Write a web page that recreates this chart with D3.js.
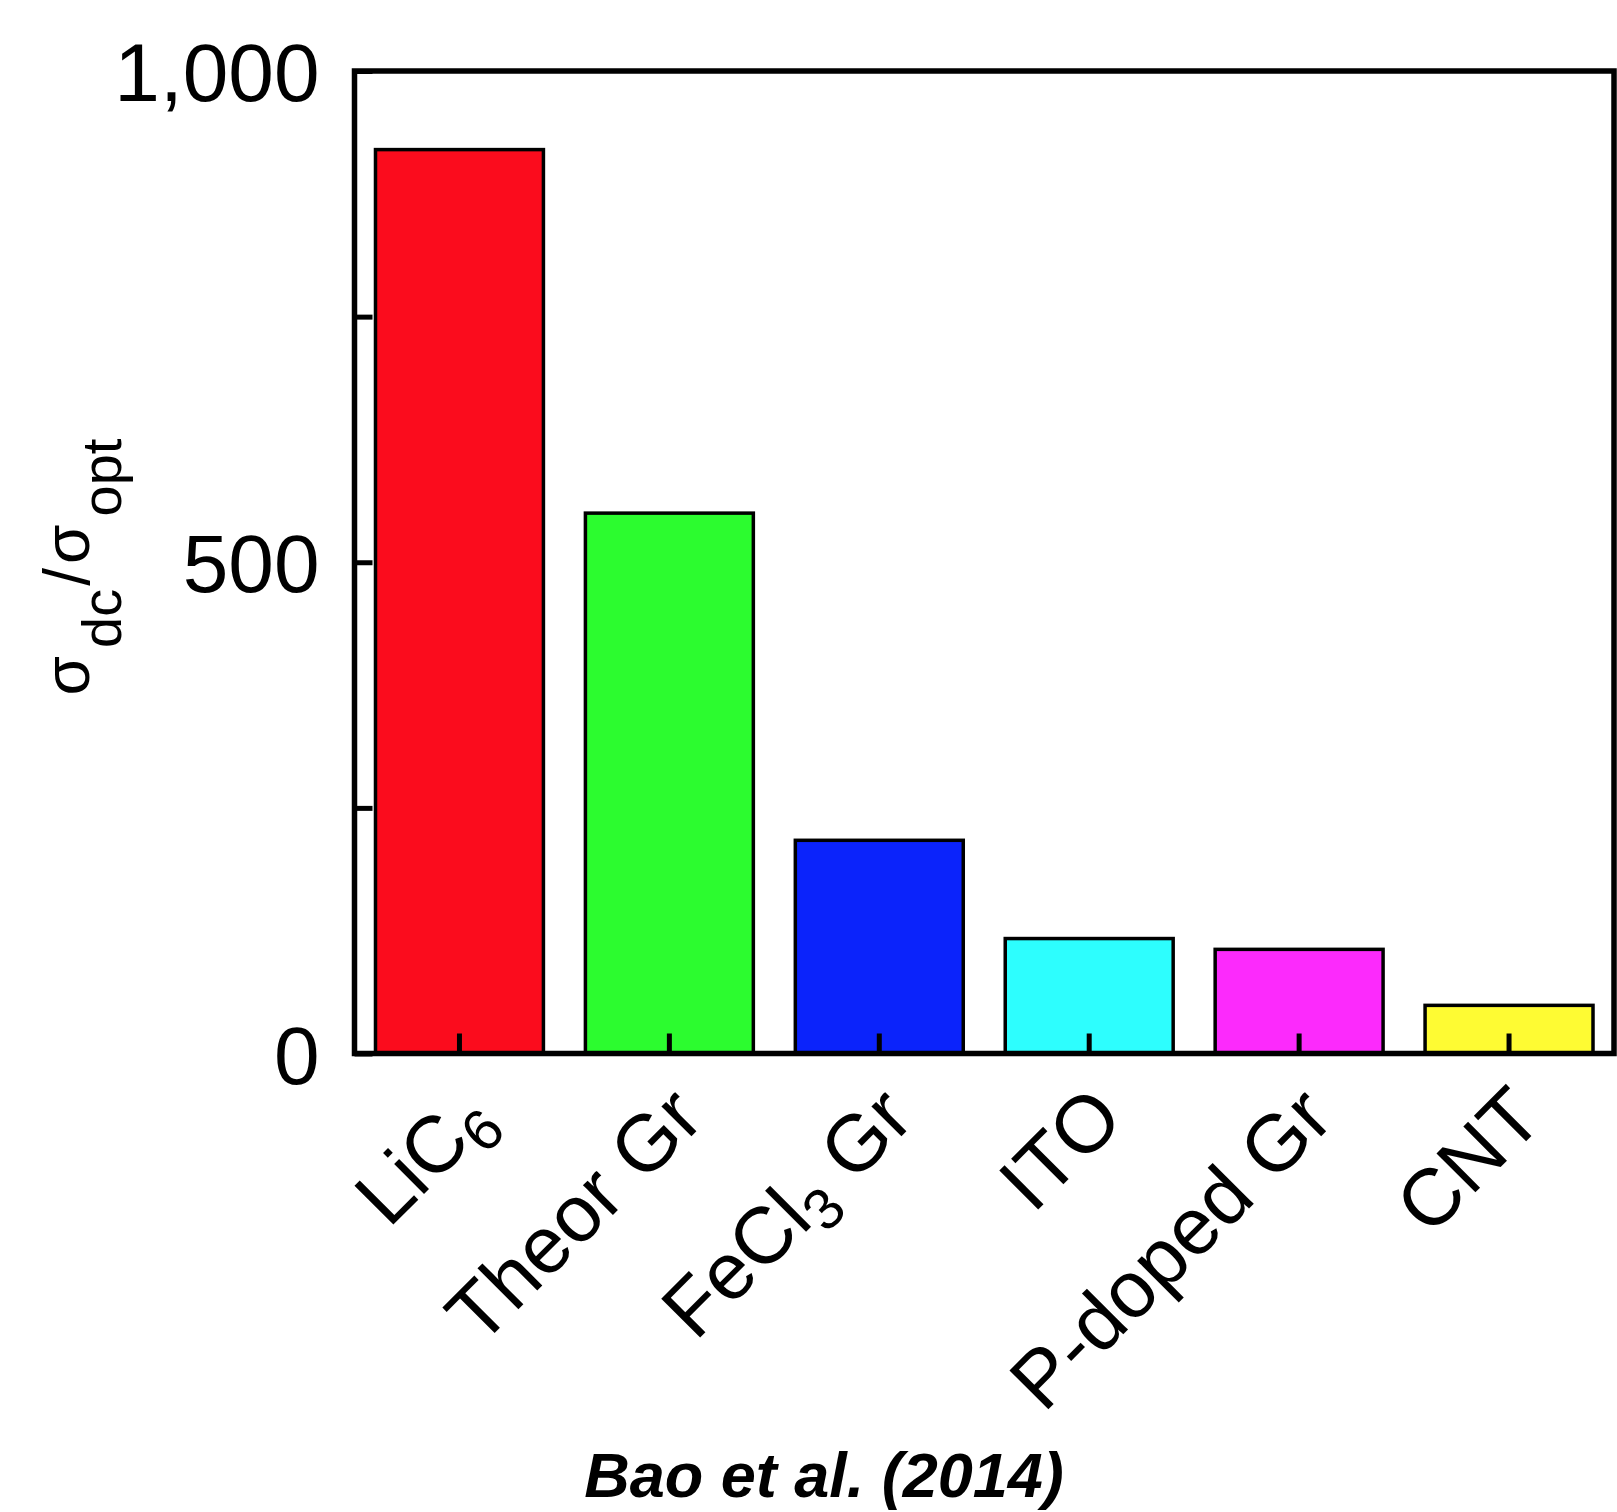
<!DOCTYPE html>
<html>
<head>
<meta charset="utf-8">
<script src="https://cdn.jsdelivr.net/npm/d3@7"></script>
<style>
  html, body { margin: 0; padding: 0; background: #fff; }
  svg { display: block; font-family: "Liberation Sans", Arial, Helvetica, sans-serif; }
</style>
</head>
<body>
<svg id="chart" width="1617" height="1512"></svg>
<script>
// Categories use "_" to mark a subscript digit (LiC_6 -> LiC₆)
const categories = ["LiC_6", "Theor Gr", "FeCl_3 Gr", "ITO", "P-doped Gr", "CNT"];
const values = [920, 550, 217, 117, 106, 49];
const barColors = ["#fb0c1d", "#2cfc2f", "#0b23fb", "#2dfefe", "#fc2afc", "#fefb33"];
const yTicks = [0, 250, 500, 750, 1000];
const yTickLabels = ["0", "", "500", "", "1,000"];
const sourceNote = "Bao et al. (2014)";

const svg = d3.select("#chart");
const plot = { left: 354.5, right: 1614, top: 71, bottom: 1053.5 };

const x = d3.scaleBand()
  .domain(categories)
  .range([plot.left, plot.right])
  .paddingInner(0.2)
  .paddingOuter(0.1);

const y = d3.scaleLinear()
  .domain([0, 1000])
  .range([plot.bottom, plot.top]);

// Bars
svg.append("g")
  .selectAll("rect")
  .data(categories)
  .join("rect")
  .attr("x", d => x(d))
  .attr("width", x.bandwidth())
  .attr("y", (d, i) => y(values[i]))
  .attr("height", (d, i) => y(0) - y(values[i]))
  .attr("fill", (d, i) => barColors[i])
  .attr("stroke", "#000")
  .attr("stroke-width", 3.5);

// Y axis with inward ticks
const yAxis = d3.axisLeft(y)
  .tickValues(yTicks)
  .tickSize(-18)
  .tickPadding(35)
  .tickFormat((d, i) => yTickLabels[i]);

const gy = svg.append("g")
  .attr("transform", `translate(${plot.left},0)`)
  .call(yAxis);
gy.select(".domain").remove();
gy.selectAll(".tick line").attr("stroke", "#000").attr("stroke-width", 5);
gy.selectAll(".tick text")
  .attr("font-size", 82)
  .attr("fill", "#000")
  .attr("dy", "0.36em")
  .style("font-family", "'Liberation Sans', Arial, sans-serif");

// X axis: inward ticks at bar centres
const xAxis = d3.axisBottom(x)
  .tickSize(-20)
  .tickFormat(() => "");

const gx = svg.append("g")
  .attr("transform", `translate(0,${plot.bottom})`)
  .call(xAxis);
gx.select(".domain").remove();
gx.selectAll(".tick line").attr("stroke", "#000").attr("stroke-width", 5);
gx.selectAll(".tick text").remove();

// Rotated category labels with subscripts
gx.selectAll(".tick").each(function(d) {
  const t = d3.select(this).append("text")
    .attr("text-anchor", "end")
    .attr("transform", "translate(37,68) rotate(-45)")
    .attr("font-size", 80)
    .attr("fill", "#000");
  const parts = d.split(/(_\d)/).filter(s => s.length);
  let sub = false;
  parts.forEach(p => {
    if (p.startsWith("_")) {
      t.append("tspan").attr("font-size", 58).attr("dy", 16).text(p.slice(1));
      sub = true;
    } else {
      t.append("tspan").attr("dy", sub ? -16 : 0).text(p);
      sub = false;
    }
  });
});

// Frame
svg.append("rect")
  .attr("x", plot.left)
  .attr("y", plot.top)
  .attr("width", plot.right - plot.left)
  .attr("height", plot.bottom - plot.top)
  .attr("fill", "none")
  .attr("stroke", "#000")
  .attr("stroke-width", 5.5);

// Y axis title: σ_dc / σ_opt
const yt = svg.append("text")
  .attr("transform", "translate(89,567) rotate(-90)")
  .attr("text-anchor", "middle")
  .attr("font-size", 64)
  .attr("fill", "#000");
yt.append("tspan").attr("letter-spacing", 8).text("σ");
yt.append("tspan").attr("font-size", 56).attr("dy", 32).text("dc");
yt.append("tspan").attr("dy", -32).attr("dx", 3).attr("letter-spacing", 4).text("/σ");
yt.append("tspan").attr("font-size", 56).attr("dy", 32).attr("dx", 4).text("opt");

// Source note
svg.append("text")
  .attr("x", 824)
  .attr("y", 1497)
  .attr("text-anchor", "middle")
  .attr("font-size", 63)
  .attr("font-weight", "bold")
  .attr("font-style", "italic")
  .attr("fill", "#000")
  .text(sourceNote);
</script>
</body>
</html>
